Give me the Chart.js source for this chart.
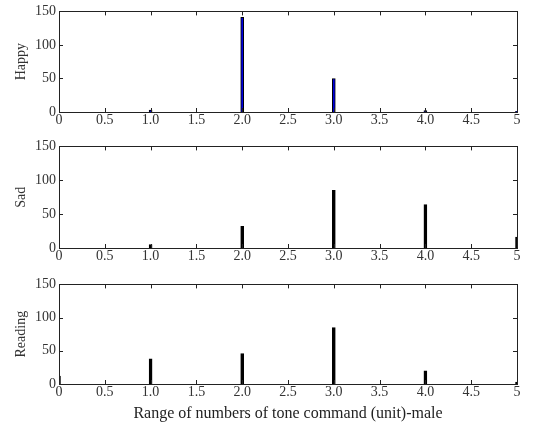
<!DOCTYPE html>
<html>
<head>
<meta charset="utf-8">
<script src="https://cdn.jsdelivr.net/npm/chart.js@4.4.0/dist/chart.umd.min.js"></script>
<style>
  body { margin: 0; background: #fff; }
  .panel { position: absolute; left: 0; width: 541px; }
</style>
</head>
<body>
<div class="panel" style="top:0px;height:130px"><canvas id="c1"></canvas></div>
<div class="panel" style="top:135px;height:131px"><canvas id="c2"></canvas></div>
<div class="panel" style="top:273px;height:150px"><canvas id="c3"></canvas></div>
<script>
// tone command counts (x = number of tone commands)
var xVals = [0, 1, 2, 3, 4, 5];
var happy = [0, 3, 141, 50, 2, 1];
var sad = [0, 5, 32, 85, 64, 16];
var reading = [12, 38, 46, 85, 20, 3];
var xTickLabels = ['0', '0.5', '1.0', '1.5', '2.0', '2.5', '3.0', '3.5', '4.0', '4.5', '5'];
var yTicks = [0, 50, 100, 150];

var serif = '"Liberation Serif", "Times New Roman", serif';

// box around the plot with inward tick marks
var framePlugin = {
  id: 'frame',
  afterDraw: function(chart) {
    var ctx = chart.ctx, a = chart.chartArea;
    var xs = chart.scales.x, ys = chart.scales.y;
    ctx.save();
    ctx.strokeStyle = '#222';
    ctx.lineWidth = 1;
    ctx.strokeRect(Math.round(a.left) + 0.5, Math.round(a.top) + 0.5,
      Math.round(a.right - a.left), Math.round(a.bottom - a.top));
    ctx.beginPath();
    xs.ticks.forEach(function(t) {
      var px = Math.round(xs.getPixelForValue(t.value)) + 0.5;
      ctx.moveTo(px, a.bottom); ctx.lineTo(px, a.bottom - 4);
      ctx.moveTo(px, a.top); ctx.lineTo(px, a.top + 4);
    });
    ys.ticks.forEach(function(t) {
      var py = Math.round(ys.getPixelForValue(t.value)) + 0.5;
      ctx.moveTo(a.left, py); ctx.lineTo(a.left + 4, py);
      ctx.moveTo(a.right, py); ctx.lineTo(a.right - 4, py);
    });
    ctx.stroke();
    ctx.restore();
  }
};

function makePanel(id, label, values, color, bottomTitle) {
  var pts = xVals.map(function(x, i) { return { x: x, y: values[i] }; });
  return new Chart(document.getElementById(id), {
    type: 'bar',
    data: {
      datasets: [{
        data: pts,
        backgroundColor: color,
        borderColor: '#000',
        borderWidth: 1,
        barThickness: 3
      }]
    },
    options: {
      responsive: true,
      maintainAspectRatio: false,
      animation: false,
      layout: { padding: { top: 10, right: 24, left: 13, bottom: 0 } },
      plugins: { legend: { display: false }, tooltip: { enabled: false } },
      scales: {
        x: {
          type: 'linear',
          min: 0, max: 5,
          offset: false,
          grid: { display: false, drawTicks: false },
          border: { display: false },
          ticks: {
            stepSize: 0.5,
            autoSkip: false,
            maxRotation: 0,
            padding: 0,
            color: '#333',
            font: { family: serif, size: 14 },
            callback: function(v) { return xTickLabels[Math.round(v * 2)]; }
          },
          title: {
            display: !!bottomTitle,
            text: bottomTitle || '',
            color: '#222',
            padding: { top: 2, bottom: 0 },
            font: { family: serif, size: 16 }
          },
          afterFit: function(s) { s.height = bottomTitle ? 39 : 18; }
        },
        y: {
          min: 0, max: 150,
          grid: { display: false, drawTicks: false },
          border: { display: false },
          afterBuildTicks: function(s) {
            s.ticks = yTicks.map(function(v) { return { value: v }; });
          },
          ticks: {
            padding: 3,
            color: '#333',
            font: { family: serif, size: 14 }
          },
          title: {
            display: true,
            text: label,
            color: '#333',
            padding: { top: 0, bottom: 2 },
            font: { family: serif, size: 14 }
          },
          afterFit: function(s) { s.width = 46; }
        }
      }
    },
    plugins: [framePlugin]
  });
}

makePanel('c1', 'Happy', happy, '#0000dd', null);
makePanel('c2', 'Sad', sad, '#000', null);
makePanel('c3', 'Reading', reading, '#000', 'Range of numbers of tone command (unit)-male');
</script>
</body>
</html>
